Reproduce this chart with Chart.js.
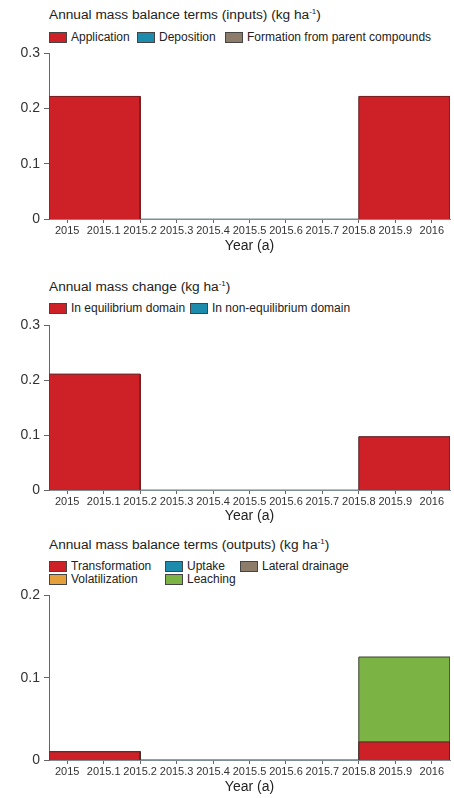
<!DOCTYPE html>
<html>
<head>
<meta charset="utf-8">
<script src="https://cdn.jsdelivr.net/npm/chart.js@4.4.1/dist/chart.umd.min.js"></script>
<style>
  body { margin: 0; background: #fff; font-family: "Liberation Sans", Arial, sans-serif; color: #222; }
  .title { position: absolute; left: 49px; font-size: 13.7px; line-height: 16px; white-space: nowrap; }
  .title sup { font-size: 8px; vertical-align: 5px; line-height: 0; }
  .legend { position: absolute; left: 49px; font-size: 12px; line-height: 13px; display: grid; white-space: nowrap; }
  .legend span.item { display: flex; align-items: center; }
  .legend i { display: inline-block; width: 16px; height: 9px; border: 1px solid #444; margin-right: 4px; }
  canvas { position: absolute; left: 0; }
</style>
</head>
<body>
<div class="title" style="top:7px">Annual mass balance terms (inputs) (kg ha<sup>-1</sup>)</div>
<div class="legend" id="leg1" style="top:31px; grid-template-columns: 88px 88px auto"></div>
<canvas id="c1" width="454" height="216" style="top:41px"></canvas>

<div class="title" style="top:279px">Annual mass change (kg ha<sup>-1</sup>)</div>
<div class="legend" id="leg2" style="top:302px; grid-template-columns: 141px auto"></div>
<canvas id="c2" width="454" height="214" style="top:313px"></canvas>

<div class="title" style="top:537px">Annual mass balance terms (outputs) (kg ha<sup>-1</sup>)</div>
<div class="legend" id="leg3" style="top:560px; grid-template-columns: 116px 75px auto"></div>
<canvas id="c3" width="454" height="215" style="top:583px"></canvas>

<script>
// x axis
const xTicks = [2015, 2015.1, 2015.2, 2015.3, 2015.4, 2015.5, 2015.6, 2015.7, 2015.8, 2015.9, 2016];
const xTickLabels = ["2015", "2015.1", "2015.2", "2015.3", "2015.4", "2015.5", "2015.6", "2015.7", "2015.8", "2015.9", "2016"];
const periodStart = [2014.95, 2015.8];
const periodEnd = [2015.2, 2016.05];

// inputs
const application = [0.222, 0.222];
const deposition = [0, 0];
const formation = [0, 0];
const inputTicks = [0, 0.1, 0.2, 0.3];
const inputTickLabels = ["0", "0.1", "0.2", "0.3"];

// mass change
const equilibrium = [0.211, 0.097];
const nonEquilibrium = [0, 0];
const changeTicks = [0, 0.1, 0.2, 0.3];
const changeTickLabels = ["0", "0.1", "0.2", "0.3"];

// outputs
const transformation = [0.010, 0.022];
const volatilization = [0, 0];
const uptake = [0, 0];
const leaching = [0, 0.103];
const lateralDrainage = [0, 0];
const outputTicks = [0, 0.1, 0.2];
const outputTickLabels = ["0", "0.1", "0.2"];

const red = "#cd2127", blue = "#1d8bab", brown = "#8d7c6a", orange = "#e5a03c", green = "#7bb445";

// bar outline from the origin up to the stacked top of each period
const outline = (top) => {
  const pts = [];
  periodStart.forEach((s, i) => {
    pts.push({ x: s, y: 0 }, { x: s, y: top[i] }, { x: periodEnd[i], y: top[i] }, { x: periodEnd[i], y: 0 });
  });
  return pts;
};

const makeLegend = (id, items) => {
  const el = document.getElementById(id);
  items.forEach((it) => {
    const s = document.createElement("span");
    s.className = "item";
    s.innerHTML = '<i style="background:' + it.color + '"></i>' + it.label;
    el.appendChild(s);
  });
};

const makeChart = (id, series, yTicks, yTickLabels, xHeight) => {
  let cum = periodStart.map(() => 0);
  const datasets = series.map((sr, k) => {
    cum = cum.map((c, i) => c + sr.values[i]);
    const filled = sr.values.some((v) => v > 0);
    return {
      label: sr.label,
      data: outline(cum),
      borderColor: sr.border,
      backgroundColor: sr.color,
      borderWidth: 1,
      fill: filled ? "origin" : false,
      // empty terms sit behind; higher order is drawn first, so lower stack parts end up in front
      order: filled ? 10 + k : 100,
      segment: filled ? {
        borderColor: (c) => (c.p0.parsed.y === 0 && c.p1.parsed.y === 0 ? "transparent" : undefined),
      } : undefined,
    };
  });
  new Chart(document.getElementById(id), {
    type: "line",
    data: { datasets: datasets },
    options: {
      responsive: false,
      animation: false,
      layout: { padding: { top: 0, right: 4, left: 0, bottom: 0 } },
      plugins: { legend: { display: false }, tooltip: { enabled: false } },
      elements: { point: { radius: 0 }, line: { tension: 0 } },
      scales: {
        x: {
          type: "linear",
          min: periodStart[0],
          max: periodEnd[periodEnd.length - 1],
          afterBuildTicks: (s) => { s.ticks = xTicks.map((v) => ({ value: v })); },
          afterFit: (s) => { s.height = xHeight; },
          ticks: {
            callback: (v, i) => xTickLabels[i],
            autoSkip: false, maxRotation: 0,
            font: { family: "Liberation Sans", size: 11 }, color: "#333", padding: 1,
          },
          grid: { drawOnChartArea: false, tickLength: 4, color: "#666" },
          border: { color: "#7d8e94" },
          title: {
            display: true, text: "Year (a)", color: "#222",
            font: { family: "Liberation Sans", size: 14 }, padding: { top: 0, bottom: 2 },
          },
        },
        y: {
          min: yTicks[0],
          max: yTicks[yTicks.length - 1],
          afterBuildTicks: (s) => { s.ticks = yTicks.map((v) => ({ value: v })); },
          afterFit: (s) => { s.width = 49; },
          ticks: {
            callback: (v, i) => yTickLabels[i],
            font: { family: "Liberation Sans", size: 14 }, color: "#333", padding: 4,
          },
          grid: { drawOnChartArea: false, tickLength: 5, color: "#666" },
          border: { color: "#666" },
        },
      },
    },
  });
};

makeLegend("leg1", [
  { label: "Application", color: red },
  { label: "Deposition", color: blue },
  { label: "Formation from parent compounds", color: brown },
]);
makeChart("c1", [
  { label: "Application", values: application, color: red, border: "#7a1c1c" },
  { label: "Deposition", values: deposition, color: blue, border: "#9ab4bc" },
  { label: "Formation from parent compounds", values: formation, color: brown, border: "#b9b0a8" },
], inputTicks, inputTickLabels, 38);

makeLegend("leg2", [
  { label: "In equilibrium domain", color: red },
  { label: "In non-equilibrium domain", color: blue },
]);
makeChart("c2", [
  { label: "In equilibrium domain", values: equilibrium, color: red, border: "#7a1c1c" },
  { label: "In non-equilibrium domain", values: nonEquilibrium, color: blue, border: "#3d97ad" },
], changeTicks, changeTickLabels, 37);

makeLegend("leg3", [
  { label: "Transformation", color: red },
  { label: "Uptake", color: blue },
  { label: "Lateral drainage", color: brown },
  { label: "Volatilization", color: orange },
  { label: "Leaching", color: green },
]);
makeChart("c3", [
  { label: "Transformation", values: transformation, color: red, border: "#4a2a2a" },
  { label: "Volatilization", values: volatilization, color: orange, border: "#8a8a8a" },
  { label: "Uptake", values: uptake, color: blue, border: "#8a9aa0" },
  { label: "Leaching", values: leaching, color: green, border: "#45503a" },
  { label: "Lateral drainage", values: lateralDrainage, color: brown, border: "#8a8480" },
], outputTicks, outputTickLabels, 38);
</script>
</body>
</html>
